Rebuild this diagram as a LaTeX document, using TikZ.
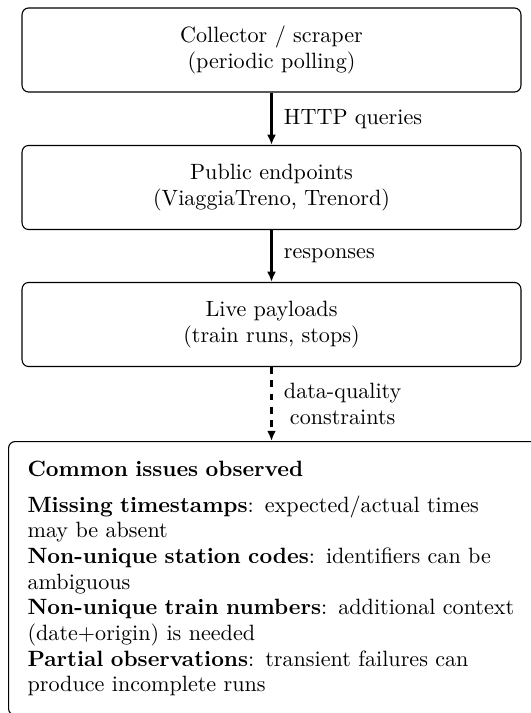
\documentclass[tikz,border=0pt]{standalone}
\usetikzlibrary{arrows.meta}
\tikzset{
  stagebox/.style={draw, line width=0.5pt, rounded corners=3pt, align=center,
    minimum width=225.5pt, minimum height=38pt, inner sep=0pt},
  flow/.style={line width=1pt, -{Latex[length=4.6pt,width=4pt]}},
  flowlabel/.style={right, xshift=1.8pt, align=center},
  issuebox/.style={draw, line width=0.5pt, rounded corners=3pt, align=left,
    text width=223pt, inner sep=8.6pt, anchor=north west,
    font=\fontsize{10}{11.6}\selectfont}
}
\begin{document}
\begin{tikzpicture}[x=0.452pt,y=-0.452pt]
\useasboundingbox (0,0) rectangle (531,713);
\node[stagebox] (b1) at (271.5,50) {Collector / scraper\\(periodic polling)};
\node[stagebox] (b2) at (271.5,187.5) {Public endpoints\\(ViaggiaTreno, Trenord)};
\node[stagebox] (b3) at (271.5,324.5) {Live payloads\\(train runs, stops)};
\node[issuebox] (b4) at (8,441) {\textbf{Common issues observed}\\[4.8pt]
\textbf{Missing timestamps}: expected/actual times\\
may be absent\\
\textbf{Non-unique station codes}: identifiers can be\\
ambiguous\\
\textbf{Non-unique train numbers}: additional context\\
(date+origin) is needed\\
\textbf{Partial observations}: transient failures can\\
produce incomplete runs};
\draw[flow] (b1.south) -- node[flowlabel] {HTTP queries} (b2.north);
\draw[flow] (b2.south) -- node[flowlabel] {responses} (b3.north);
\draw[flow, dashed] (b3.south) -- node[flowlabel] {data-quality\\constraints} (b3.south |- b4.north);
\end{tikzpicture}
\end{document}
